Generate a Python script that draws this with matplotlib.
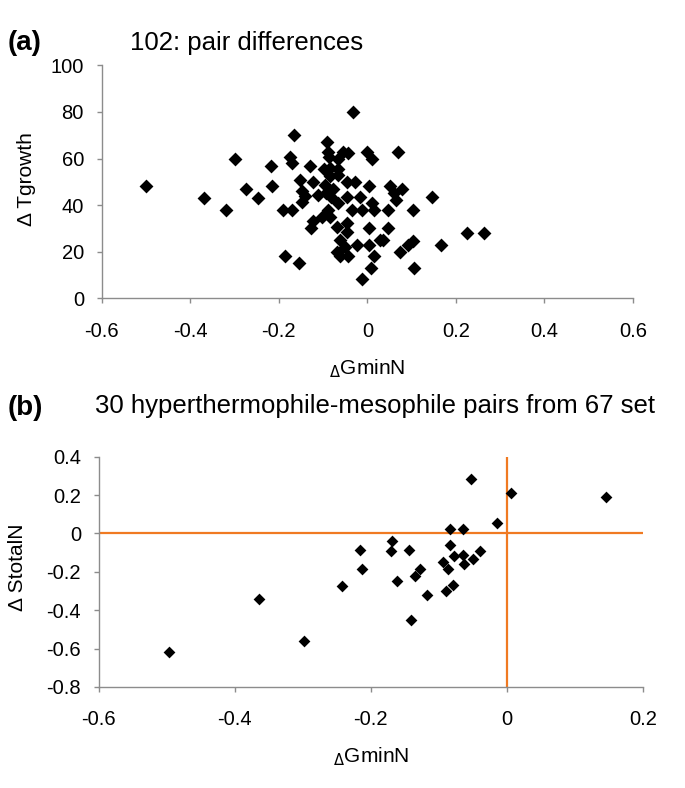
import numpy as np
import matplotlib
matplotlib.use("Agg")
import matplotlib.pyplot as plt

plt.rcParams['font.family'] = ['Liberation Sans', 'DejaVu Sans']
plt.rcParams['axes.unicode_minus'] = False

# (a) 102: pair differences  (dGminN, dTgrowth)
a_x = [-0.50, -0.37, -0.32, -0.30, -0.275, -0.248, -0.218, -0.215, -0.19, -0.187,
       -0.175, -0.170, -0.171, -0.165, -0.155,
       -0.152, -0.148, -0.141, -0.148, -0.130, -0.122, -0.112, -0.122, -0.127, -0.103,
       -0.099, -0.096, -0.094, -0.092, -0.090, -0.086, -0.084, -0.084, -0.082, -0.090,
       -0.084, -0.078, -0.067, -0.066, -0.066, -0.067, -0.069, -0.062, -0.069, -0.062,
       -0.054, -0.043, -0.047, -0.045, -0.045, -0.045, -0.050, -0.043, -0.032, -0.028,
       -0.034, -0.023, -0.017, -0.013, -0.013, -0.0015, 0.004, 0.010, 0.011, 0.014,
       0.004, 0.004, 0.016, 0.008, 0.029, 0.036,
       0.069, 0.052, 0.078, 0.061, 0.065, 0.147, 0.047, 0.104, 0.046, 0.226,
       0.264, 0.091, 0.104, 0.166, 0.074, 0.106]
a_y = [48, 43, 38, 60, 47, 43, 57, 48, 38, 18,
       60.5, 58, 38, 70, 15,
       51, 46, 44, 41.5, 57, 50, 44.3, 33.3, 30, 34.8,
       55.3, 48.6, 45, 67, 63, 60.5, 55.8, 52.5, 43.5, 38,
       34.8, 47, 60, 55.3, 53, 40.8, 30.5, 25, 20, 18,
       63, 62.5, 50, 43.3, 32.2, 28.6, 22, 18, 80, 50,
       38, 23, 43.3, 38, 8.2, 63, 48.2, 40.8, 60, 38,
       30, 23, 18, 13, 25, 25,
       63, 48, 47, 45, 42, 43.3, 38, 38, 30.3, 28,
       28, 23, 24.7, 23, 20, 13]

# (b) 30 hyperthermophile-mesophile pairs  (dGminN, dStotalN)
b_x = [-0.496, -0.365, -0.298, -0.243, -0.216, -0.213, -0.169, -0.171, -0.144, -0.161,
       -0.128, -0.135, -0.118, -0.141, -0.084, -0.065, -0.084, -0.078, -0.094, -0.086,
       -0.090, -0.079, -0.065, -0.063, -0.050, -0.039, -0.053, -0.015, 0.006, 0.146]
b_y = [-0.620, -0.339, -0.561, -0.273, -0.087, -0.186, -0.038, -0.091, -0.084, -0.250,
       -0.186, -0.221, -0.321, -0.453, 0.021, 0.021, -0.061, -0.118, -0.149, -0.186,
       -0.301, -0.270, -0.111, -0.161, -0.132, -0.091, 0.286, 0.055, 0.213, 0.192]

a_xticks = [-0.6, -0.4, -0.2, 0, 0.2, 0.4, 0.6]
a_yticks = [0, 20, 40, 60, 80, 100]
b_xticks = [-0.6, -0.4, -0.2, 0, 0.2]
b_yticks = [-0.8, -0.6, -0.4, -0.2, 0, 0.2, 0.4]

grey = '#8c8c8c'
orange = '#f07a22'


def fmt(v):
    return '%g' % round(v, 2)


def style(ax):
    for s in ['top', 'right']:
        ax.spines[s].set_visible(False)
    for s in ['left', 'bottom']:
        ax.spines[s].set_color(grey)
        ax.spines[s].set_linewidth(1.0)
    ax.tick_params(direction='out', length=3.8, width=1.0, color=grey,
                   labelsize=14.5, labelcolor='black')
    ax.tick_params(axis='x', pad=13)
    ax.tick_params(axis='y', pad=9)


fig = plt.figure(figsize=(6.85, 7.88), dpi=100)

ax1 = fig.add_axes([0.1485, 0.6214, 0.7756, 0.2957])
ax1.scatter(a_x, a_y, marker='D', s=50, color='black', zorder=3, linewidths=0)
ax1.set_xlim(-0.6, 0.6)
ax1.set_ylim(0, 100)
ax1.set_xticks(a_xticks)
ax1.set_xticklabels([fmt(v) for v in a_xticks])
ax1.set_yticks(a_yticks)
ax1.set_yticklabels([fmt(v) for v in a_yticks])
style(ax1)
ax1.text(0.5, -0.30, r'$_\Delta$GminN', transform=ax1.transAxes,
         ha='center', va='center', fontsize=15)
ax1.text(-0.142, 0.51, 'Δ Tgrowth', transform=ax1.transAxes, rotation=90,
         ha='center', va='center', fontsize=15)

ax2 = fig.add_axes([0.1441, 0.1282, 0.7946, 0.2922])
ax2.axhline(0, color=orange, lw=1.6, zorder=2)
ax2.axvline(0, color=orange, lw=1.6, zorder=2)
ax2.scatter(b_x, b_y, marker='D', s=36, color='black', zorder=3, linewidths=0)
ax2.set_xlim(-0.6, 0.2)
ax2.set_ylim(-0.8, 0.4)
ax2.set_xticks(b_xticks)
ax2.set_xticklabels([fmt(v) for v in b_xticks])
ax2.set_yticks(b_yticks)
ax2.set_yticklabels([fmt(v) for v in b_yticks])
style(ax2)
ax2.text(0.5, -0.304, r'$_\Delta$GminN', transform=ax2.transAxes,
         ha='center', va='center', fontsize=15)
ax2.text(-0.150, 0.52, 'Δ StotalN', transform=ax2.transAxes, rotation=90,
         ha='center', va='center', fontsize=15)

fig.text(8 / 685, 1 - 43 / 788, '(a)', fontsize=20, fontweight='bold',
         ha='left', va='center')
fig.text(130 / 685, 1 - 43 / 788, '102: pair differences', fontsize=18.5,
         ha='left', va='center')
fig.text(8 / 685, 1 - 408 / 788, '(b)', fontsize=20, fontweight='bold',
         ha='left', va='center')
fig.text(95 / 685, 1 - 406 / 788, '30 hyperthermophile-mesophile pairs from 67 set',
         fontsize=18.5, ha='left', va='center')

fig.savefig('out.png', dpi=100)
